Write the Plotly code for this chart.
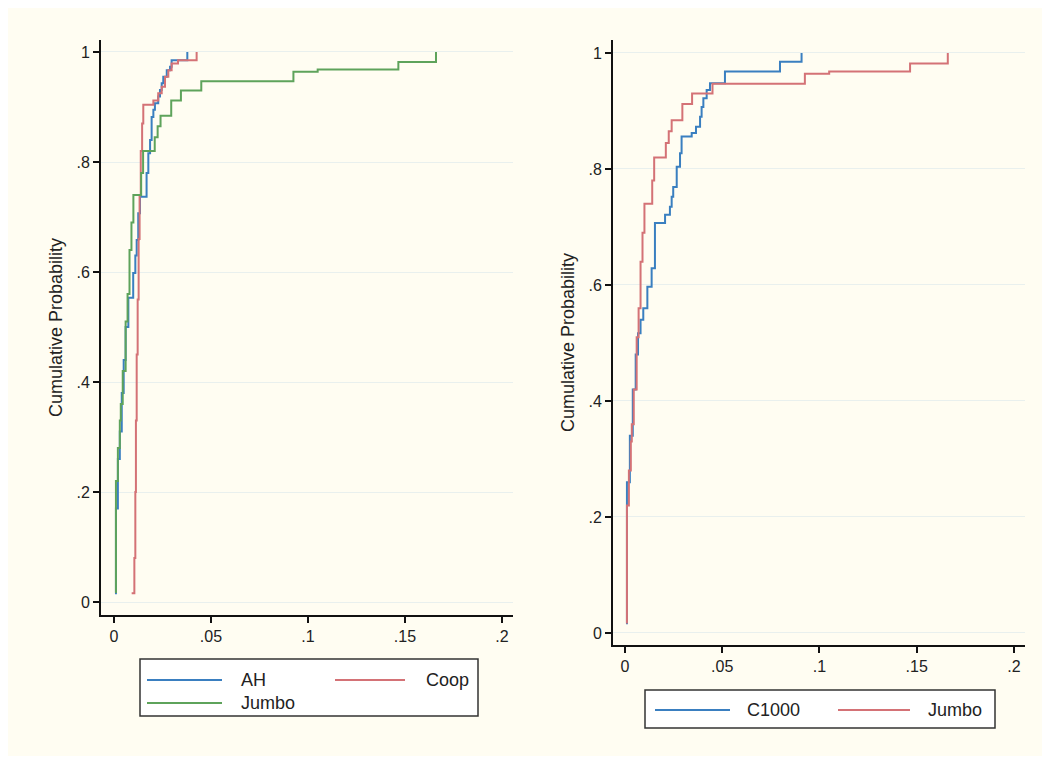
import plotly.graph_objects as go

W, H = 1050, 766
OFF = 8  # page body margin

# ---------------- data (empirical CDF break points) ----------------
ah_x = [0.0005, 0.001, 0.002, 0.003, 0.004, 0.005, 0.006, 0.0074, 0.0099, 0.0110, 0.0117, 0.0125,
        0.0134, 0.0168, 0.0177, 0.0186, 0.0194, 0.0203, 0.0211, 0.0228, 0.0237, 0.0246, 0.0254,
        0.0272, 0.0289, 0.0297, 0.0378]
ah_p = [0.016, 0.17, 0.26, 0.31, 0.38, 0.44, 0.50, 0.553, 0.598, 0.63, 0.658, 0.707,
        0.737, 0.78, 0.816, 0.84, 0.882, 0.895, 0.907, 0.919, 0.931, 0.943, 0.955,
        0.967, 0.973, 0.985, 1.0]

coop_x = [0.0091, 0.0105, 0.0110, 0.0113, 0.0117, 0.0122, 0.0127, 0.0132, 0.0138, 0.0145,
          0.0151, 0.0203, 0.0228, 0.0246, 0.0263, 0.0280, 0.0297, 0.0330, 0.0426]
coop_p = [0.016, 0.08, 0.20, 0.33, 0.45, 0.55, 0.66, 0.74, 0.82, 0.87,
          0.904, 0.912, 0.925, 0.937, 0.955, 0.967, 0.979, 0.985, 1.0]

jumbo_x = [0.0005, 0.001, 0.002, 0.003, 0.0035, 0.0045, 0.006, 0.007, 0.008, 0.009, 0.0100,
           0.0140, 0.0150, 0.0210, 0.0225, 0.0240, 0.0295, 0.0345, 0.0450, 0.0925, 0.1050,
           0.1466, 0.1660]
jumbo_p = [0.018, 0.22, 0.28, 0.33, 0.36, 0.42, 0.51, 0.56, 0.64, 0.69, 0.74,
           0.78, 0.82, 0.845, 0.865, 0.884, 0.912, 0.930, 0.947, 0.964, 0.968,
           0.982, 1.0]

c1000_x = [0.0005, 0.001, 0.0025, 0.004, 0.0055, 0.0067, 0.0080, 0.0094, 0.0115, 0.0137, 0.0154,
           0.0206, 0.0231, 0.0240, 0.0248, 0.0266, 0.0283, 0.0291, 0.0343, 0.0365, 0.0386,
           0.0394, 0.0403, 0.0420, 0.0437, 0.0514, 0.0797, 0.0908]
c1000_p = [0.017, 0.26, 0.34, 0.42, 0.48, 0.517, 0.54, 0.56, 0.597, 0.629, 0.707,
           0.721, 0.735, 0.752, 0.769, 0.804, 0.827, 0.856, 0.862, 0.873, 0.890,
           0.907, 0.922, 0.936, 0.948, 0.968, 0.985, 1.0]

x_ticks = [0, 0.05, 0.1, 0.15, 0.2]
x_tick_text = ["0", ".05", ".1", ".15", ".2"]
y_ticks = [0, 0.2, 0.4, 0.6, 0.8, 1.0]
y_tick_text = ["0", ".2", ".4", ".6", ".8", "1"]

left_series = [("AH", ah_x, ah_p), ("Coop", coop_x, coop_p), ("Jumbo", jumbo_x, jumbo_p)]
right_series = [("C1000", c1000_x, c1000_p), ("Jumbo", jumbo_x, jumbo_p)]

BLUE = "#3a7fc0"
RED = "#d47276"
GREEN = "#5ea35b"
left_colors = [BLUE, RED, GREEN]
right_colors = [BLUE, RED]

CREAM = "#fffdf2"
TXT = "#222222"
FONT = "Liberation Sans, Arial, sans-serif"


def px(x):
    return (x - OFF) / W


def py(y):
    return 1 - (y - OFF) / H


fig = go.Figure()
for (name, xs, ps), col in zip(left_series, left_colors):
    fig.add_trace(go.Scatter(x=xs, y=ps, mode="lines", line=dict(color=col, width=2, shape="hv"),
                             name=name, xaxis="x", yaxis="y", showlegend=False))
for (name, xs, ps), col in zip(right_series, right_colors):
    fig.add_trace(go.Scatter(x=xs, y=ps, mode="lines", line=dict(color=col, width=2, shape="hv"),
                             name=name, xaxis="x2", yaxis="y2", showlegend=False))

axis_common = dict(showline=True, linecolor="#111111", linewidth=2, ticks="outside", ticklen=6,
                   tickwidth=1.5, tickcolor="#111111", zeroline=False,
                   tickfont=dict(family=FONT, size=16, color=TXT))

fig.update_layout(
    width=W, height=H,
    margin=dict(l=0, r=0, t=0, b=0),
    paper_bgcolor="white",
    plot_bgcolor=CREAM,
    xaxis=dict(domain=[px(101), px(513)], range=[-0.0067, 0.2057], anchor="y",
               tickvals=x_ticks, ticktext=x_tick_text, showgrid=False, **axis_common),
    yaxis=dict(domain=[py(615), py(40)], range=[-0.0236, 1.0218], anchor="x",
               tickvals=y_ticks, ticktext=y_tick_text, showgrid=True, gridcolor="#e9f0ee",
               gridwidth=1,
               title=dict(text="Cumulative Probability", standoff=9,
                          font=dict(family=FONT, size=18, color=TXT)),
               **axis_common),
    xaxis2=dict(domain=[px(613), px(1025)], range=[-0.00617, 0.2057], anchor="y2",
                tickvals=x_ticks, ticktext=x_tick_text, showgrid=False, **axis_common),
    yaxis2=dict(domain=[py(645), py(40)], range=[-0.0207, 1.0224], anchor="x2",
                tickvals=y_ticks, ticktext=y_tick_text, showgrid=True, gridcolor="#e9f0ee",
                gridwidth=1,
                title=dict(text="Cumulative Probability", standoff=9,
                           font=dict(family=FONT, size=18, color=TXT)),
                **axis_common),
)

shapes = []
annotations = []
# cream graph region
shapes.append(dict(type="rect", xref="paper", yref="paper", x0=px(7), x1=px(1043), y0=py(756), y1=py(5),
                   fillcolor=CREAM, line=dict(width=0), layer="below"))


# legends (drawn as layout decorations)
def legend_box(x0, y0, x1, y1):
    shapes.append(dict(type="rect", xref="paper", yref="paper", x0=px(x0), x1=px(x1), y0=py(y1), y1=py(y0),
                       fillcolor="white", line=dict(color="#333333", width=1.5), layer="above"))


def legend_item(lx0, lx1, ly, tx, label, col):
    shapes.append(dict(type="line", xref="paper", yref="paper", x0=px(lx0), x1=px(lx1), y0=py(ly), y1=py(ly),
                       line=dict(color=col, width=2)))
    annotations.append(dict(xref="paper", yref="paper", x=px(tx), y=py(ly), text=label, showarrow=False,
                            xanchor="left", yanchor="middle",
                            font=dict(family=FONT, size=18, color=TXT)))


legend_box(140, 659, 478, 716)
legend_item(147, 222, 680, 239, left_series[0][0], left_colors[0])
legend_item(335, 405, 680, 424, left_series[1][0], left_colors[1])
legend_item(147, 222, 703, 239, left_series[2][0], left_colors[2])

legend_box(645, 690, 995, 728)
legend_item(655, 730, 710, 745, right_series[0][0], right_colors[0])
legend_item(838, 910, 710, 926, right_series[1][0], right_colors[1])

fig.update_layout(shapes=shapes, annotations=annotations)

fig.write_html("out.html")
